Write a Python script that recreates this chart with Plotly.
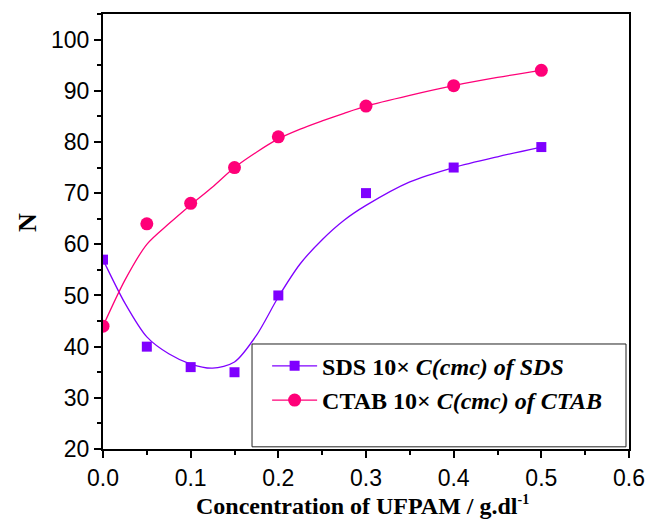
import plotly.graph_objects as go

# Measured aggregation numbers
conc = [0.0, 0.05, 0.10, 0.15, 0.20, 0.30, 0.40, 0.50]
n_sds = [57, 40, 36, 35, 50, 70, 75, 79]
n_ctab = [44, 64, 68, 75, 81, 87, 91, 94]

# Smoothed fit curves
conc_fit = [0.0, 0.025, 0.05, 0.075, 0.10, 0.125, 0.15, 0.175, 0.20, 0.225, 0.25, 0.275, 0.30, 0.35, 0.40, 0.45, 0.50]
sds_fit = [57, 48.5, 41.9, 38.6, 36.6, 35.8, 37.0, 42.2, 49.7, 56.2, 60.9, 64.7, 67.6, 72.2, 75, 77.1, 79]
ctab_fit = [44, 53, 60, 64, 67.7, 71.2, 75, 78, 80.6, 82.5, 84.1, 85.6, 87, 89.1, 91, 92.6, 94]

x_ticks = [0.0, 0.1, 0.2, 0.3, 0.4, 0.5, 0.6]
y_ticks = [20, 30, 40, 50, 60, 70, 80, 90, 100]

SDS_COLOR = "#7F00FF"
CTAB_COLOR = "#FF0078"
SERIF = "Liberation Serif, Times New Roman, serif"
SANS = "Liberation Sans, Arial, sans-serif"

fig = go.Figure()

fig.add_trace(go.Scatter(x=conc_fit, y=sds_fit, mode="lines", line=dict(color=SDS_COLOR, width=1.3, shape="spline", smoothing=0.8), showlegend=False, hoverinfo="skip"))
fig.add_trace(go.Scatter(x=conc_fit, y=ctab_fit, mode="lines", line=dict(color=CTAB_COLOR, width=1.3, shape="spline", smoothing=0.8), showlegend=False, hoverinfo="skip"))

fig.add_trace(go.Scatter(x=conc, y=n_sds, mode="markers", marker=dict(symbol="square", size=10, color=SDS_COLOR), showlegend=False))
fig.add_trace(go.Scatter(x=conc, y=n_ctab, mode="markers", marker=dict(symbol="circle", size=13, color=CTAB_COLOR), showlegend=False))

# Legend entries (line + marker)
fig.add_trace(go.Scatter(x=[None], y=[None], mode="lines+markers", name="<b>SDS 10\u00d7 <i>C(cmc) of SDS</i></b>",
                         line=dict(color=SDS_COLOR, width=1.3), marker=dict(symbol="square", size=10, color=SDS_COLOR)))
fig.add_trace(go.Scatter(x=[None], y=[None], mode="lines+markers", name="<b>CTAB 10\u00d7 <i>C(cmc) of CTAB</i></b>",
                         line=dict(color=CTAB_COLOR, width=1.3), marker=dict(symbol="circle", size=13, color=CTAB_COLOR)))

# Legend frame
fig.add_shape(type="rect", xref="paper", yref="paper", x0=0.2833, x1=0.9943, y0=0.005, y1=0.2414,
              line=dict(color="#222", width=1), fillcolor="rgba(0,0,0,0)")

# Axis titles
fig.add_annotation(text="<b>Concentration of UFPAM / g.dl<sup><span style='font-size:14px'>-1</span></sup></b>",
                   xref="paper", yref="paper", x=0.4924, y=-0.129, xanchor="center", yanchor="middle",
                   showarrow=False, font=dict(family=SERIF, size=24, color="black"))
fig.add_annotation(text="<b>N</b>", xref="paper", yref="paper", x=-0.1426, y=0.522,
                   xanchor="center", yanchor="middle", textangle=-90, showarrow=False,
                   font=dict(family=SERIF, size=26, color="black"))

axis_common = dict(
    showgrid=False, zeroline=False, showline=True, linecolor="black", linewidth=2, mirror=True,
    ticks="outside", ticklen=7, tickwidth=1.5, tickcolor="black", automargin=False,
    tickfont=dict(family=SANS, size=23, color="black"),
)

fig.update_xaxes(range=[0, 0.6], tickvals=x_ticks, ticktext=[f"{v:.1f}" for v in x_ticks],
                 minor=dict(dtick=0.05, ticks="outside", ticklen=4, tickwidth=1.5, tickcolor="black"),
                 **axis_common)
fig.update_yaxes(range=[20, 105], tickvals=y_ticks,
                 minor=dict(dtick=5, ticks="outside", ticklen=4, tickwidth=1.5, tickcolor="black"),
                 **axis_common)

fig.update_layout(
    width=660, height=519,
    margin=dict(l=103, r=31, t=14, b=70),
    plot_bgcolor="white", paper_bgcolor="white",
    legend=dict(x=0.312, y=0.242, xanchor="left", yanchor="top", bgcolor="rgba(0,0,0,0)",
                font=dict(family=SERIF, size=24, color="black"), borderwidth=0,
                tracegroupgap=0, itemwidth=45),
)

fig.write_html("out.html")
